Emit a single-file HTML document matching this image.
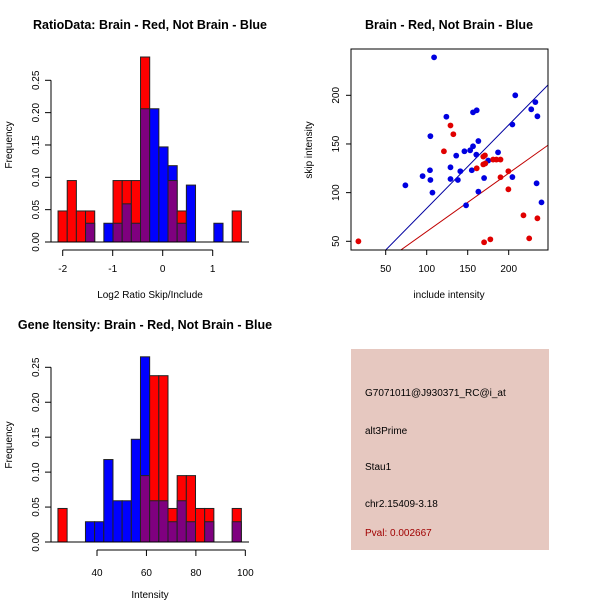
<!DOCTYPE html>
<html><head><meta charset="utf-8"><style>
body{margin:0;background:#fff}
svg{display:block;font-family:"Liberation Sans",sans-serif}
</style></head><body>
<svg id="c" width="600" height="600" xmlns="http://www.w3.org/2000/svg">
<rect width="600" height="600" fill="#fff"/>
<text x="150" y="29" font-size="12.5" font-weight="bold" text-anchor="middle">RatioData: Brain - Red, Not Brain - Blue</text>
<text x="449" y="29" font-size="12.5" font-weight="bold" text-anchor="middle">Brain - Red, Not Brain - Blue</text>
<text x="145" y="329" font-size="12.5" font-weight="bold" text-anchor="middle">Gene Itensity: Brain - Red, Not Brain - Blue</text>
<text x="150" y="298" font-size="10" text-anchor="middle">Log2 Ratio Skip/Include</text>
<text x="150" y="598" font-size="10" text-anchor="middle">Intensity</text>
<text x="449" y="298" font-size="10" text-anchor="middle">include intensity</text>
<text transform="translate(12,145) rotate(-90)" font-size="10" text-anchor="middle">Frequency</text>
<text transform="translate(12,445) rotate(-90)" font-size="10" text-anchor="middle">Frequency</text>
<text transform="translate(312,150) rotate(-90)" font-size="10" text-anchor="middle">skip intensity</text>
<g>
<rect x="351" y="349" width="198" height="201" fill="#e6c8c0"/>
<text x="365" y="396" font-size="10">G7071011@J930371_RC@i_at</text>
<text x="365" y="434" font-size="10">alt3Prime</text>
<text x="365" y="470" font-size="10">Stau1</text>
<text x="365" y="507" font-size="10">chr2.15409-3.18</text>
<text x="365" y="536" font-size="10" fill="#a00000">Pval: 0.002667</text>
</g>
</svg>
<script>
// Ratio histogram data
const ratioStart = -2.093, ratioBinW = 0.1833;
const ratioRed  = [0.048,0.095,0.048,0.048,0,0,0.095,0.095,0.095,0.286,0,0,0.095,0.048,0,0,0,0,0,0.048];
const ratioBlue = [0,0,0,0.029,0,0.029,0.029,0.059,0.029,0.206,0.206,0.147,0.118,0.029,0.088,0,0,0.029,0,0];
const ratioXTicks = [-2,-1,0,1];
// Intensity histogram data
const intStart = 24.2, intBinW = 3.71;
const intRed  = [0.048,0,0,0,0,0,0,0,0,0.095,0.238,0.238,0.048,0.095,0.095,0.048,0.048,0,0,0.048];
const intBlue = [0,0,0,0.029,0.029,0.118,0.059,0.059,0.147,0.265,0.059,0.059,0.029,0.059,0.029,0,0.029,0,0,0.029];
const intXTicks = [40,60,80,100];
const freqTicks = [0,0.05,0.10,0.15,0.20,0.25];
const freqLabels = ["0.00","0.05","0.10","0.15","0.20","0.25"];
// Scatter data
const blueX = [109,74,95,104,104.5,104.5,107,124,129,129,136,138,141,146,148,153,155,156.5,156.5,161,160.5,163,163,170,175,187,204.5,204.5,208,227.5,232.5,235,234,240];
const blueY = [239,107.5,117,123,158,113,100,178,126,114,138,113,122,142.5,87,143.5,123,147.6,182.5,184.6,139,153,101,115,133,141.4,116,170,200,185.6,193,178.4,109.6,90];
const redX = [16.7,121,129,132.5,161,169,171,169,171.5,181,185,190,190,199.6,199.6,218,235,225,177.6,170];
const redY = [50,142.5,169,160,125,137,138.3,129,130,134,134,134,115.8,122,103.4,76.7,73.6,53,52,49];
const blueFit = [0.857,-1.8];
const redFit = [0.6,0];
const scXTicks = [50,100,150,200];
const scYTicks = [50,100,150,200];

const NS="http://www.w3.org/2000/svg", svg=document.getElementById('c');
function mk(tag,attrs,parent){const e=document.createElementNS(NS,tag);for(const k in attrs)e.setAttribute(k,attrs[k]);(parent||svg).appendChild(e);return e;}

function hist(g, xs, xe, x0px, y0px, start, bw, red, blue, xTicks, pxPerFreq, axY, tickY) {
  const sx = v => x0px + (v - xs) * xe;
  const sy = f => y0px - f * pxPerFreq;
  for (let i = 0; i < red.length; i++) {
    const a = sx(start + i*bw), b = sx(start + (i+1)*bw);
    const r = red[i], bl = blue[i];
    const hi = Math.max(r, bl), lo = Math.min(r, bl);
    if (hi > 0) {
      const e = mk('rect',{x:a,y:sy(hi),width:b-a,height:sy(0)-sy(hi),fill:r>=bl?'#ff0000':'#0000ff',stroke:'#222','stroke-width':1},g);
      
      
    }
    if (lo > 0) {
      const e = mk('rect',{x:a,y:sy(lo),width:b-a,height:sy(0)-sy(lo),fill:'#7f007f',stroke:'#222','stroke-width':1},g);
      
      
    }
  }
  const ya = mk('g',{},g);
  
  
  mk('line',{x1:51,x2:51,y1:sy(0),y2:sy(0.25),stroke:'#000'},ya);
  freqTicks.forEach((f,i)=>{
    mk('line',{x1:45,x2:51,y1:sy(f),y2:sy(f),stroke:'#000'},ya);
    const t=mk('text',{transform:`translate(39,${sy(f)}) rotate(-90)`,'font-size':10,'text-anchor':'middle'},ya);
    t.textContent=freqLabels[i];
    
    
  });
  const xa = mk('g',{},g);
  
  
  mk('line',{x1:sx(xTicks[0]),x2:sx(xTicks[xTicks.length-1]),y1:axY,y2:axY,stroke:'#000'},xa);
  xTicks.forEach(v=>{
    mk('line',{x1:sx(v),x2:sx(v),y1:axY,y2:axY+6,stroke:'#000'},xa);
    const t=mk('text',{x:sx(v),y:tickY,'font-size':10,'text-anchor':'middle'},xa);
    t.textContent=v;
    
    
  });
  mk('line',{x1:51,x2:249,y1:sy(0),y2:sy(0),stroke:'#000'},g);
}
const g1=mk('g',{});


hist(g1, -2, 50, 62.7, 242, ratioStart, ratioBinW, ratioRed, ratioBlue, ratioXTicks, 646.8, 250, 272);
const g2=mk('g',{});


hist(g2, 40, 2.472, 97, 542, intStart, intBinW, intRed, intBlue, intXTicks, 698.8, 550, 576);

const g3=mk('g',{});


const X = v => 385.7 + (v-50)*0.82, Y = v => 241.3 - (v-50)*0.9733;
const L=351,R=548,T=49,B=250;
const cp=mk('clipPath',{id:'clp'},g3);
mk('rect',{x:L,y:T,width:R-L,height:B-T},cp);
function fitLine(fit,col,name){
  const xa=0, xb=300;
  const e=mk('line',{x1:X(xa),y1:Y(fit[0]*xa+fit[1]),x2:X(xb),y2:Y(fit[0]*xb+fit[1]),stroke:col,'stroke-width':1,'clip-path':'url(#clp)'},g3);
  
  
}
fitLine(blueFit,'#0000a0','blue-fit-line');
fitLine(redFit,'#c00000','red-fit-line');
blueX.forEach((v,i)=>{
  const e=mk('circle',{cx:X(v),cy:Y(blueY[i]),r:2.9,fill:'#0000e0'},g3);
  
  
});
redX.forEach((v,i)=>{
  const e=mk('circle',{cx:X(v),cy:Y(redY[i]),r:2.9,fill:'#e00000'},g3);
  
  
});
const box=mk('rect',{x:L,y:T,width:R-L,height:B-T,fill:'none',stroke:'#000'},g3);


scXTicks.forEach(v=>{
  mk('line',{x1:X(v),x2:X(v),y1:B,y2:B+5,stroke:'#000'},g3);
  const t=mk('text',{x:X(v),y:272,'font-size':10,'text-anchor':'middle'},g3);
  t.textContent=v;
  
  
});
scYTicks.forEach(v=>{
  mk('line',{x1:L-5,x2:L,y1:Y(v),y2:Y(v),stroke:'#000'},g3);
  const t=mk('text',{transform:`translate(339,${Y(v)}) rotate(-90)`,'font-size':10,'text-anchor':'middle'},g3);
  t.textContent=v;
  
  
});
</script>
</body></html>
